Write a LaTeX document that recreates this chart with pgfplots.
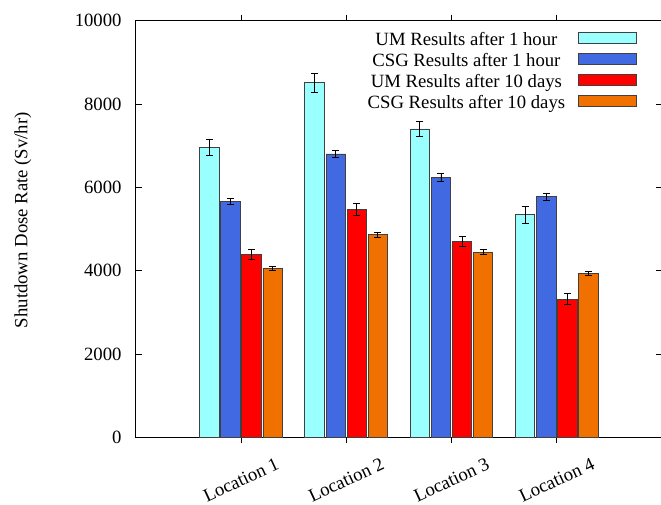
\documentclass[border=0pt]{standalone}
\usepackage{fontspec}
\setmainfont{Liberation Serif}
\newfontfamily\tnr{Liberation Serif}
\usepackage{pgfplots}
\pgfplotsset{compat=1.18}
\usetikzlibrary{calc}
\definecolor{cUM1}{RGB}{153,255,255}
\definecolor{cCSG1}{RGB}{65,105,225}
\definecolor{cUM10}{RGB}{255,0,0}
\definecolor{cCSG10}{RGB}{240,112,0}
\newcommand{\bigfont}{\tnr\fontsize{18.7}{22.4}\selectfont}
\begin{document}
\begin{tikzpicture}[font=\bigfont]
\begin{axis}[
  name=ax,
  scale only axis,
  width=526pt, height=416.3pt,
  xmin=0, xmax=5,
  ymin=0, ymax=10000,
  ytick={0,2000,4000,6000,8000,10000},
  xtick={1,2,3,4},
  xticklabels={{\tnr Location 1},{\tnr Location 2},{\tnr Location 3},{\tnr Location 4}},
  yticklabel={\tnr\pgfmathprintnumber[1000 sep={},assume math mode=true]{\tick}},
  scaled y ticks=false,
  /pgf/number format/assume math mode=true,
  tick label style={font=\bigfont},
  label style={font=\bigfont},
  yticklabel style={anchor=east, inner sep=0pt, xshift=-14pt},
  xticklabel style={yshift=-37pt, rotate=25, anchor=center, inner sep=0pt},
  tick align=inside,
  major tick length=6pt,
  tick style={black, line width=0.8pt},
  axis line style={line width=0.9pt},
  ylabel={Shutdown Dose Rate (Sv/hr)},
  ylabel style={at={(axis description cs:-0.2145,0.521)}, anchor=center},
  ybar=1.7pt,
  bar width=19.4pt,
  every axis plot/.append style={draw=black!75, line width=0.8pt},
  error bars/error bar style={black, line width=0.9pt},
  error bars/error mark options={rotate=90, mark size=3.5pt, line width=0.9pt, black},
  legend plot pos=right,
  legend cell align=right,
  legend image code/.code={\draw[#1,/tikz/.cd] (0pt,2.3pt) rectangle (58pt,13.3pt);},
  legend style={at={(1,1)}, anchor=north east, xshift=-25pt, yshift=-11pt,
    draw=none, fill=none, inner sep=0pt, outer sep=0pt, font=\bigfont,
    nodes={inner sep=0pt, anchor=base},
    row sep={21pt,between origins}, column sep=13pt},
]
\addplot[fill=cUM1, error bars/.cd, y dir=both, y explicit] coordinates {
  (1,6960) +- (0,200)
  (2,8510) +- (0,228)
  (3,7400) +- (0,190)
  (4,5340) +- (0,205)
};
\addplot[fill=cCSG1, error bars/.cd, y dir=both, y explicit] coordinates {
  (1,5660) +- (0,78)
  (2,6800) +- (0,80)
  (3,6240) +- (0,88)
  (4,5775) +- (0,80)
};
\addplot[fill=cUM10, error bars/.cd, y dir=both, y explicit] coordinates {
  (1,4390) +- (0,125)
  (2,5460) +- (0,144)
  (3,4700) +- (0,125)
  (4,3315) +- (0,128)
};
\addplot[fill=cCSG10, error bars/.cd, y dir=both, y explicit] coordinates {
  (1,4055) +- (0,52)
  (2,4860) +- (0,55)
  (3,4440) +- (0,60)
  (4,3935) +- (0,52)
};
\legend{UM Results after 1 hour, CSG Results after 1 hour, UM Results after 10 days, CSG Results after 10 days}
\end{axis}
\pgfresetboundingbox
\useasboundingbox ($(ax.south west)+(-135.7pt,-67pt)$) rectangle ($(ax.north east)+(-1pt,20.7pt)$);
\end{tikzpicture}
\end{document}
